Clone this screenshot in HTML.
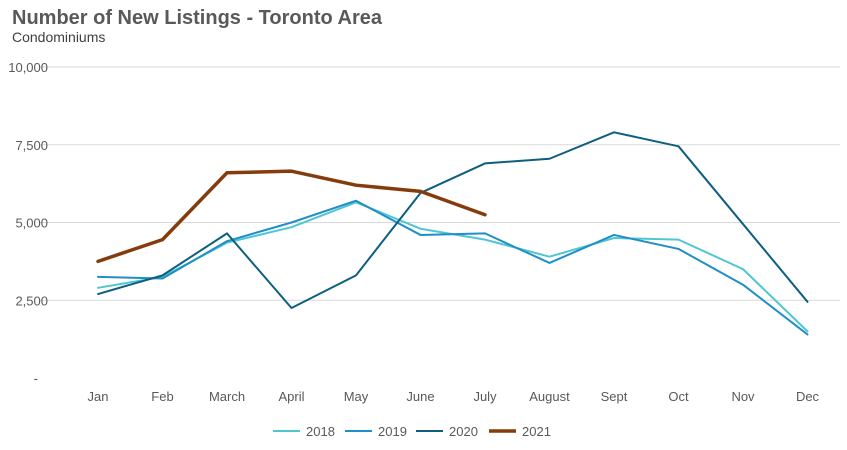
<!DOCTYPE html>
<html><head><meta charset="utf-8"><style>
body{margin:0;background:#fff;font-family:"Liberation Sans",Arial,sans-serif;}
</style></head><body>
<svg id="chart" width="847" height="445" xmlns="http://www.w3.org/2000/svg" font-family="Liberation Sans, Arial, sans-serif">
<text x="12" y="24" font-size="20" font-weight="bold" fill="#595959">Number of New Listings - Toronto Area</text>
<text x="12" y="42" font-size="14" fill="#404040">Condominiums</text>
<g id="grid"></g><g id="axes"></g><g id="series"></g><g id="legend"></g>
</svg>
<script>
const months=["Jan","Feb","March","April","May","June","July","August","Sept","Oct","Nov","Dec"];
const yTicks=[0,2500,5000,7500,10000];
const yTickLabels=["-","2,500","5,000","7,500","10,000"];
const seriesNames=["2018","2019","2020","2021"];
const s2018=[2900,3250,4350,4850,5650,4800,4450,3900,4500,4450,3500,1500];
const s2019=[3250,3200,4400,5000,5700,4600,4650,3700,4600,4150,3000,1400];
const s2020=[2700,3300,4650,2250,3300,5950,6900,7050,7900,7450,4950,2450];
const s2021=[3750,4450,6600,6650,6200,6000,5250];
const colors=["#4fc6d2","#1f8fc7","#0e5f7f","#843c0c"];
const widths=[2,2,2,3.5];
const NS="http://www.w3.org/2000/svg";
const x=i=>98+i*64.5;
const y=v=>378-v/10000*311;
function mk(tag,attrs,parent){const e=document.createElementNS(NS,tag);for(const k in attrs)e.setAttribute(k,attrs[k]);document.getElementById(parent).appendChild(e);return e;}
yTicks.forEach((t,i)=>{
  if(i>0){const l=mk("line",{x1:40,x2:840,y1:y(t),y2:y(t),stroke:"#d9d9d9","stroke-width":1},"grid");
  
  }
  const tx=mk("text",{x:i==0?38:48,y:y(t)+5,"font-size":13,fill:"#595959","text-anchor":"end"},"axes");
  tx.textContent=yTickLabels[i];
  
  
});
months.forEach((m,i)=>{
  const tx=mk("text",{x:x(i),y:401,"font-size":13,fill:"#595959","text-anchor":"middle"},"axes");
  tx.textContent=m;
  
  
});
[s2018,s2019,s2020,s2021].forEach((d,si)=>{
  const p=mk("polyline",{points:d.map((v,i)=>x(i)+","+y(v)).join(" "),fill:"none",stroke:colors[si],"stroke-width":widths[si],"stroke-linejoin":"round","stroke-linecap":"round"},"series");
  
  
});
const lx=[273,345,416,489];
seriesNames.forEach((n,i)=>{
  const l=mk("line",{x1:lx[i],x2:lx[i]+27,y1:431,y2:431,stroke:colors[i],"stroke-width":widths[i]},"legend");
  
  
  const t=mk("text",{x:lx[i]+33,y:436,"font-size":13,fill:"#595959"},"legend");
  t.textContent=n;
  
  
});
</script>
</body></html>
